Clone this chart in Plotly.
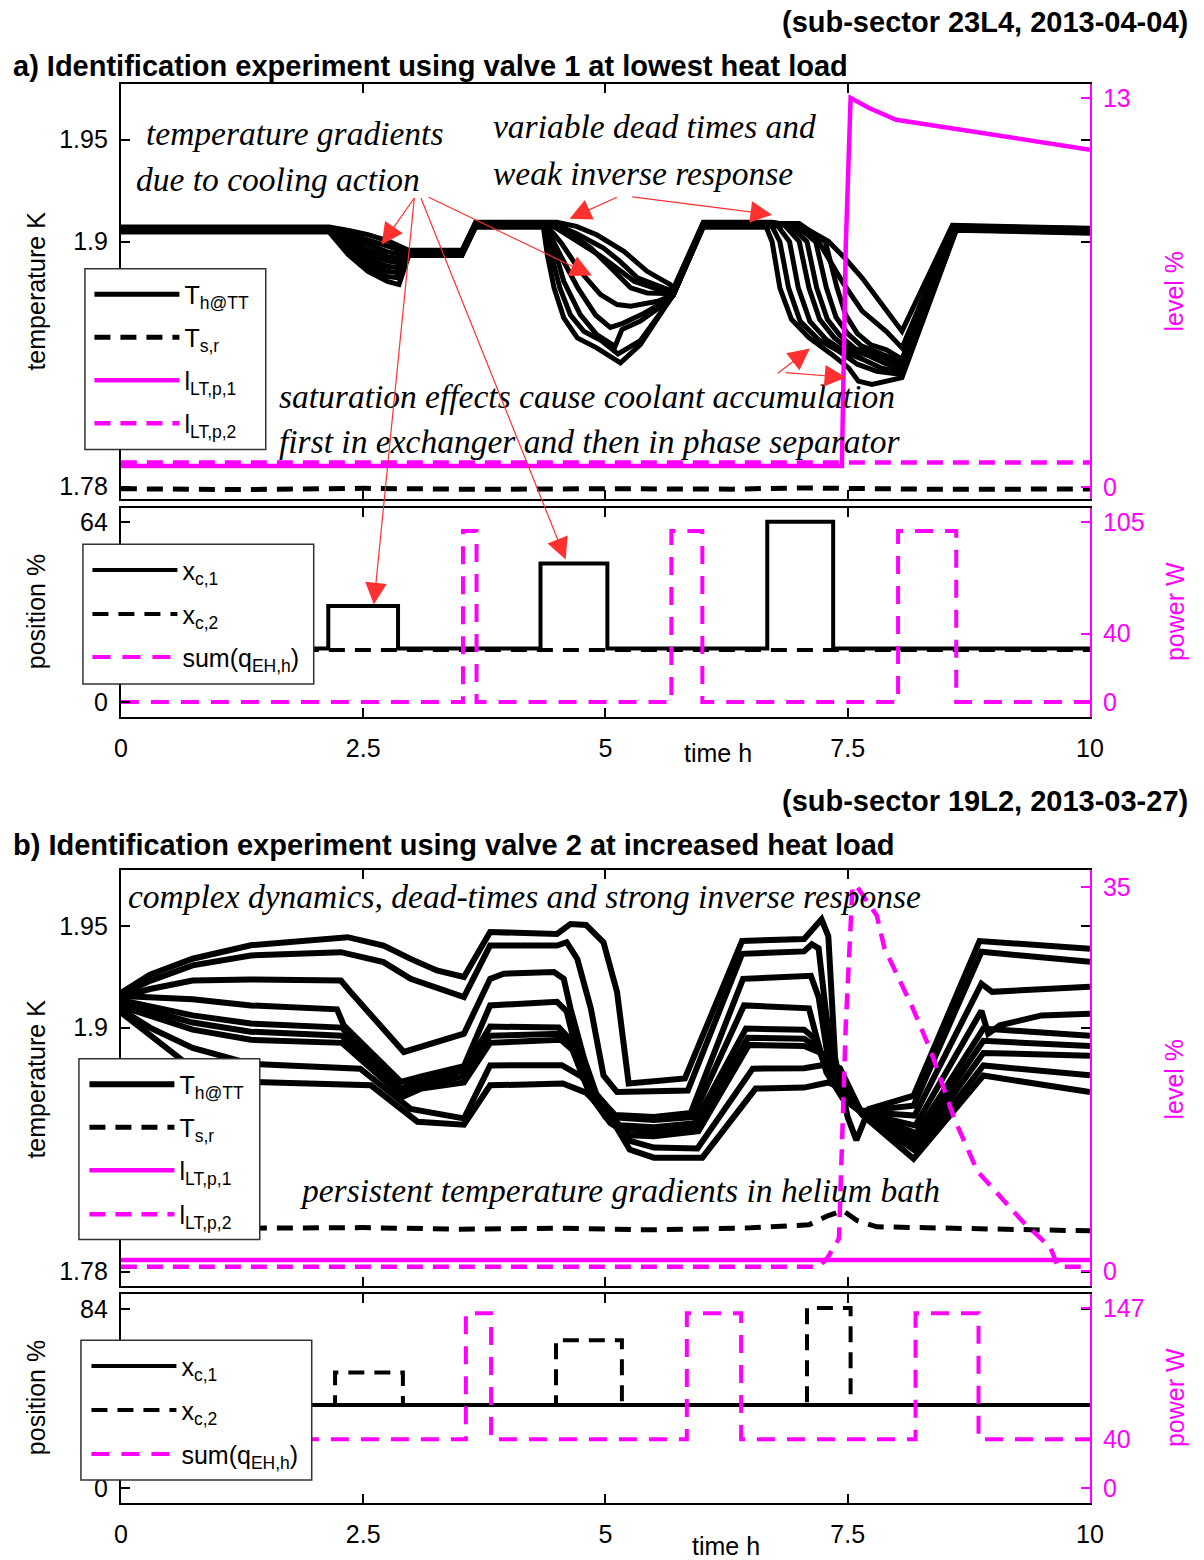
import plotly.graph_objects as go

# ---------------------------------------------------------------------------
# a) sub-sector 23L4 : helium temperatures T_h@TT (one line per sensor), K
# ---------------------------------------------------------------------------
a_t1 = [0, 2.15, 2.35, 2.55, 2.75, 2.87, 2.97, 3.52, 3.66, 4.50, 4.70, 4.91, 5.19, 5.43, 5.67, 5.70, 6.01, 6.72, 7.06, 7.30, 7.47, 7.65, 7.86, 8.02, 8.06, 8.58, 10]
a_v1 = [1.9072, 1.9072, 1.9055, 1.9035, 1.9005, 1.8980, 1.8958, 1.8958, 1.9095, 1.9095, 1.9075, 1.9034, 1.8953, 1.8855, 1.8790, 1.8770, 1.9095, 1.9095, 1.9067, 1.9002, 1.8920, 1.8822, 1.8692, 1.8594, 1.8562, 1.9080, 1.9066]
a_t2 = [0, 2.15, 2.35, 2.55, 2.75, 2.87, 2.97, 3.52, 3.66, 4.45, 4.70, 4.98, 5.15, 5.33, 5.60, 5.70, 6.01, 6.75, 7.00, 7.20, 7.45, 7.65, 7.90, 8.06, 8.59, 10]
a_v2 = [1.9068, 1.9068, 1.9040, 1.9010, 1.8975, 1.8960, 1.8954, 1.8954, 1.9092, 1.9092, 1.9040, 1.8969, 1.8904, 1.8823, 1.8774, 1.8758, 1.9092, 1.9092, 1.9075, 1.9000, 1.8800, 1.8660, 1.8560, 1.8480, 1.9077, 1.9063]
a_t3 = [0, 2.15, 2.35, 2.55, 2.75, 2.87, 2.97, 3.52, 3.66, 4.42, 4.68, 4.95, 5.12, 5.30, 5.55, 5.70, 6.01, 7.00, 7.27, 7.39, 7.48, 7.60, 7.74, 7.90, 8.06, 8.60, 10]
a_v3 = [1.9065, 1.9065, 1.9025, 1.8985, 1.8950, 1.8940, 1.8951, 1.8951, 1.9089, 1.9089, 1.9010, 1.8930, 1.8870, 1.8805, 1.8765, 1.8750, 1.9089, 1.9089, 1.9000, 1.8774, 1.8640, 1.8550, 1.8495, 1.8470, 1.8425, 1.9074, 1.9060]
a_t4 = [0, 2.15, 2.35, 2.55, 2.75, 2.87, 2.97, 3.52, 3.66, 4.40, 4.60, 4.85, 5.09, 5.26, 5.43, 5.70, 6.01, 6.95, 7.17, 7.28, 7.38, 7.50, 7.64, 7.80, 7.96, 8.06, 8.60, 10]
a_v4 = [1.9062, 1.9062, 1.9010, 1.8962, 1.8927, 1.8918, 1.8948, 1.8948, 1.9086, 1.9086, 1.9050, 1.8969, 1.8855, 1.8774, 1.8749, 1.8745, 1.9086, 1.9086, 1.9000, 1.8774, 1.8630, 1.8550, 1.8490, 1.8460, 1.8435, 1.8410, 1.9071, 1.9057]
a_t5 = [0, 2.15, 2.35, 2.55, 2.75, 2.87, 2.97, 3.52, 3.66, 4.39, 4.55, 4.74, 4.95, 5.12, 5.26, 5.54, 5.70, 6.01, 6.90, 7.08, 7.18, 7.29, 7.42, 7.58, 7.75, 7.92, 8.06, 8.61, 10]
a_v5 = [1.9059, 1.9059, 1.8995, 1.8940, 1.8905, 1.8896, 1.8945, 1.8945, 1.9083, 1.9083, 1.8990, 1.8855, 1.8741, 1.8692, 1.8684, 1.8708, 1.8740, 1.9083, 1.9083, 1.9000, 1.8774, 1.8620, 1.8540, 1.8475, 1.8455, 1.8420, 1.8395, 1.9068, 1.9054]
a_t6 = [0, 2.15, 2.35, 2.55, 2.75, 2.87, 2.97, 3.52, 3.66, 4.38, 4.55, 4.72, 4.90, 5.05, 5.18, 5.40, 5.60, 5.70, 6.01, 6.85, 7.00, 7.10, 7.21, 7.36, 7.52, 7.70, 7.88, 8.06, 8.61, 10]
a_v6 = [1.9056, 1.9056, 1.8980, 1.8918, 1.8880, 1.8872, 1.8942, 1.8942, 1.9080, 1.9080, 1.8920, 1.8770, 1.8640, 1.8580, 1.8600, 1.8650, 1.8705, 1.8738, 1.9080, 1.9080, 1.9000, 1.8774, 1.8620, 1.8530, 1.8470, 1.8445, 1.8405, 1.8380, 1.9065, 1.9051]
a_t7 = [0, 2.15, 2.35, 2.55, 2.75, 2.87, 2.97, 3.52, 3.66, 4.37, 4.43, 4.57, 4.74, 4.91, 5.10, 5.17, 5.36, 5.60, 5.70, 6.01, 6.78, 6.90, 6.99, 7.11, 7.28, 7.47, 7.65, 7.85, 8.06, 8.62, 10]
a_v7 = [1.9053, 1.9053, 1.8965, 1.8895, 1.8855, 1.8848, 1.8939, 1.8939, 1.9077, 1.9077, 1.9034, 1.8806, 1.8643, 1.8545, 1.8488, 1.8570, 1.8611, 1.8692, 1.8736, 1.9077, 1.9077, 1.9000, 1.8774, 1.8610, 1.8520, 1.8460, 1.8425, 1.8380, 1.8365, 1.9062, 1.9048]
a_t8 = [0, 2.15, 2.35, 2.55, 2.75, 2.87, 2.97, 3.52, 3.66, 4.37, 4.44, 4.53, 4.64, 4.78, 4.96, 5.13, 5.36, 5.60, 5.70, 6.01, 6.72, 6.80, 6.89, 7.01, 7.20, 7.42, 7.60, 7.80, 8.06, 8.62, 10]
a_v8 = [1.9050, 1.9050, 1.8950, 1.8875, 1.8830, 1.8822, 1.8936, 1.8936, 1.9074, 1.9074, 1.8936, 1.8774, 1.8640, 1.8560, 1.8515, 1.8450, 1.8515, 1.8680, 1.8738, 1.9074, 1.9074, 1.9000, 1.8774, 1.8610, 1.8520, 1.8460, 1.8400, 1.8365, 1.8350, 1.9059, 1.9045]
a_t9 = [0, 2.15, 2.35, 2.55, 2.75, 2.87, 2.97, 3.52, 3.66, 4.36, 4.40, 4.47, 4.57, 4.71, 4.91, 5.155, 5.36, 5.60, 5.70, 6.01, 6.66, 6.72, 6.80, 6.92, 7.10, 7.34, 7.51, 7.61, 7.75, 8.06, 8.62, 10]
a_v9 = [1.9047, 1.9047, 1.8935, 1.8855, 1.8805, 1.8790, 1.8933, 1.8933, 1.9071, 1.9071, 1.8936, 1.8774, 1.8627, 1.8529, 1.8480, 1.8407, 1.8496, 1.8676, 1.8741, 1.9071, 1.9071, 1.9000, 1.8774, 1.8620, 1.8530, 1.8447, 1.8382, 1.8317, 1.8301, 1.8334, 1.9056, 1.9042]

# return temperature T_s,r (K)
a_ts_t = [0, 1.2, 2.5, 3.7, 5.0, 6.3, 7.0, 8.5, 10]
a_ts_v = [1.7790, 1.7786, 1.7792, 1.7787, 1.7790, 1.7788, 1.7794, 1.7787, 1.7789]
# phase-separator levels (%)
a_l1_t = [0, 7.44, 7.48, 7.53, 7.72, 8.00, 10]
a_l1_v = [0.71, 0.71, 8.05, 13.0, 12.66, 12.27, 11.27]
a_l2_t = [0, 10]
a_l2_v = [0.83, 0.83]
# valve positions (%) and heater power (W)
a_xc1_t = [0, 2.14, 2.86, 4.33, 5.02, 6.67, 7.35, 10]
a_xc1_v = [19.1, 34.2, 19.1, 49.4, 19.1, 64.2, 19.1, 19.1]
a_xc2_t = [0, 10]
a_xc2_v = [18.6, 18.6]
a_q_t = [0, 3.53, 3.67, 5.68, 6.00, 8.02, 8.62, 10]
a_q_v = [0, 100, 0, 100, 0, 100, 0, 0]

# ---------------------------------------------------------------------------
# b) sub-sector 19L2
# ---------------------------------------------------------------------------
b_tA = [0, 0.3, 0.74, 1.34, 2.34, 2.71, 2.99, 3.26, 3.54, 3.81, 4.50, 4.64, 4.80, 4.98, 5.12, 5.24, 5.82, 6.41, 7.05, 7.16, 7.23, 7.30, 7.37, 7.50, 7.59, 7.72, 8.18, 8.86, 10]
b_vA = [1.9170, 1.9260, 1.9339, 1.9405, 1.9445, 1.9404, 1.9338, 1.9281, 1.9249, 1.9470, 1.9461, 1.9510, 1.9505, 1.9420, 1.9175, 1.8725, 1.8750, 1.9426, 1.9436, 1.9500, 1.9533, 1.9450, 1.8850, 1.8560, 1.8446, 1.8600, 1.8665, 1.9426, 1.9388]
b_tB = [0, 0.3, 0.74, 1.34, 2.27, 2.71, 2.99, 3.54, 3.81, 4.50, 4.60, 4.71, 4.85, 4.98, 5.12, 5.85, 6.41, 7.05, 7.13, 7.20, 7.27, 7.35, 7.50, 7.65, 8.18, 8.88, 10]
b_vB = [1.9160, 1.9230, 1.9306, 1.9355, 1.9371, 1.9322, 1.9240, 1.9150, 1.9404, 1.9404, 1.9420, 1.9338, 1.9093, 1.8765, 1.8683, 1.8690, 1.9363, 1.9375, 1.9410, 1.9390, 1.9100, 1.8800, 1.8650, 1.8590, 1.8616, 1.9373, 1.9324]
b_tC = [0, 0.3, 0.74, 1.34, 2.27, 2.37, 2.92, 3.13, 3.54, 3.81, 3.95, 4.47, 4.57, 4.64, 4.78, 4.91, 5.10, 5.50, 5.88, 6.42, 7.05, 7.12, 7.20, 7.28, 7.40, 7.65, 8.19, 8.88, 8.99, 10]
b_vC = [1.9150, 1.9190, 1.9232, 1.9237, 1.9232, 1.9175, 1.8880, 1.8912, 1.8970, 1.9240, 1.9265, 1.9273, 1.9240, 1.9093, 1.8847, 1.8667, 1.8570, 1.8560, 1.8580, 1.9240, 1.9250, 1.9255, 1.9150, 1.8900, 1.8700, 1.8585, 1.8567, 1.9216, 1.9176, 1.9201]
b_tD = [0, 0.74, 1.34, 2.23, 2.30, 2.89, 3.10, 3.54, 3.81, 4.50, 4.60, 4.72, 4.85, 5.05, 5.50, 5.90, 6.43, 7.00, 7.10, 7.18, 7.28, 7.45, 7.65, 8.20, 8.88, 8.95, 9.07, 9.50, 10]
b_vD = [1.9155, 1.9140, 1.9109, 1.9090, 1.9011, 1.8733, 1.8760, 1.8810, 1.9109, 1.9127, 1.9080, 1.8850, 1.8680, 1.8560, 1.8545, 1.8560, 1.9109, 1.9100, 1.9095, 1.8950, 1.8780, 1.8650, 1.8580, 1.8518, 1.9083, 1.8970, 1.9011, 1.9060, 1.9068]
b_tE1 = [0, 0.74, 1.34, 2.28, 2.89, 3.10, 3.54, 3.81, 4.52, 4.62, 4.78, 4.95, 5.15, 5.50, 5.92, 6.45, 7.05, 7.15, 7.30, 7.45, 7.65, 8.21, 8.90, 10]
b_vE1 = [1.9135, 1.9060, 1.9020, 1.9000, 1.8700, 1.8740, 1.8790, 1.9005, 1.9000, 1.8950, 1.8750, 1.8600, 1.8520, 1.8510, 1.8530, 1.8995, 1.8990, 1.8950, 1.8780, 1.8660, 1.8580, 1.8480, 1.8995, 1.8960]
b_tE2 = [0, 0.74, 1.34, 2.28, 2.90, 3.10, 3.54, 3.81, 4.53, 4.64, 4.82, 5.00, 5.20, 5.50, 5.94, 6.47, 7.05, 7.20, 7.35, 7.50, 7.65, 8.21, 8.90, 10]
b_vE2 = [1.9120, 1.9025, 1.8980, 1.8960, 1.8680, 1.8720, 1.8760, 1.8960, 1.8970, 1.8920, 1.8700, 1.8560, 1.8500, 1.8490, 1.8510, 1.8950, 1.8945, 1.8900, 1.8760, 1.8650, 1.8578, 1.8450, 1.8935, 1.8910]
b_tE3 = [0, 0.74, 1.34, 2.28, 2.91, 3.10, 3.54, 3.81, 4.54, 4.66, 4.85, 5.05, 5.25, 5.50, 5.96, 6.48, 7.05, 7.25, 7.40, 7.52, 7.65, 8.21, 8.90, 10]
b_vE3 = [1.9105, 1.8990, 1.8940, 1.8925, 1.8660, 1.8700, 1.8730, 1.8925, 1.8940, 1.8890, 1.8660, 1.8530, 1.8470, 1.8465, 1.8490, 1.8915, 1.8910, 1.8870, 1.8750, 1.8660, 1.8575, 1.8420, 1.8875, 1.8862]
b_tF = [0, 0.3, 0.74, 1.34, 2.47, 2.99, 3.54, 3.81, 4.55, 4.75, 5.00, 5.20, 5.50, 5.95, 6.52, 7.05, 7.30, 7.42, 7.65, 8.21, 8.90, 10]
b_vF = [1.9090, 1.9000, 1.8900, 1.8822, 1.8798, 1.8600, 1.8553, 1.8814, 1.8815, 1.8760, 1.8620, 1.8450, 1.8410, 1.8405, 1.8798, 1.8800, 1.8820, 1.8800, 1.8575, 1.8390, 1.8814, 1.8765]
b_tG = [0, 0.3, 0.74, 1.34, 2.58, 3.06, 3.54, 3.81, 4.56, 4.80, 5.05, 5.25, 5.50, 6.00, 6.55, 7.05, 7.30, 7.45, 7.65, 8.18, 8.90, 10]
b_vG = [1.9075, 1.8960, 1.8800, 1.8733, 1.8716, 1.8537, 1.8522, 1.8716, 1.8725, 1.8680, 1.8560, 1.8400, 1.8360, 1.8360, 1.8700, 1.8705, 1.8730, 1.8700, 1.8570, 1.8355, 1.8764, 1.8683]

b_ts_t = [0, 1.5, 2.5, 3.5, 4.5, 5.5, 6.5, 7.1, 7.3, 7.45, 7.6, 7.8, 8.5, 9.5, 10]
b_ts_v = [1.8010, 1.8012, 1.8016, 1.8008, 1.8013, 1.8005, 1.8015, 1.8030, 1.8075, 1.8100, 1.8050, 1.8020, 1.8015, 1.8005, 1.8000]
b_l1_t = [0, 10]
b_l1_v = [1.03, 1.03]
b_l2_t = [0, 7.20, 7.29, 7.41, 7.48, 7.55, 7.59, 7.80, 7.88, 8.16, 8.36, 8.60, 8.84, 9.31, 9.59, 9.67, 10]
b_l2_v = [0.43, 0.43, 1.2, 3.0, 22.4, 35.1, 35.1, 32.4, 29.4, 24.2, 20.0, 13.9, 9.1, 4.5, 2.2, 0.43, 0.43]
b_xc1_t = [0, 10]
b_xc1_v = [39.0, 39.0]
b_xc2_t = [0, 2.21, 2.91, 4.49, 5.17, 7.08, 7.53, 10]
b_xc2_v = [39.0, 54.3, 39.0, 69.5, 39.0, 84.6, 39.0, 39.0]
b_q_t = [0, 3.56, 3.82, 5.84, 6.40, 8.20, 8.85, 10]
b_q_v = [40, 143, 40, 143, 40, 143, 40, 40]

# axis ticks
time_ticks = [0, 2.5, 5, 7.5, 10]
time_labels = ["0", "2.5", "5", "7.5", "10"]
temp_ticks = [1.78, 1.9, 1.95]
temp_labels = ["1.78", "1.9", "1.95"]
a_level_ticks = [0, 13]
b_level_ticks = [0, 35]
a_pos_ticks = [0, 64]
b_pos_ticks = [0, 84]
a_pow_ticks = [0, 40, 105]
b_pow_ticks = [0, 40, 147]

# ---------------------------------------------------------------------------
W, H = 1204, 1560
BLACK = "#000000"
MAGENTA = "#ff00ff"
RED = "#ff3030"
SANS = "Liberation Sans, Arial, sans-serif"
SERIF = "Liberation Serif, Times New Roman, serif"
DASH = "16px,10px"

# page placement of the figure (horizontal offset / scale of the rendered page)
OX, SX = 6.0, 0.9835


def fx(p):
    return min(max((p - OX) / SX / W, 0.0), 1.0)


def fy(p):
    return 1 - p / H


fig = go.Figure()


def line(t, v, xa, ya, legend, name, color=BLACK, width=4, dash="solid",
         show=True, shape="linear"):
    fig.add_trace(go.Scatter(
        x=t, y=v, mode="lines", name=name, xaxis=xa, yaxis=ya,
        legend=legend, showlegend=show, hoverinfo="skip",
        line=dict(color=color, width=width, dash=dash, shape=shape)))


# panel a: temperatures and levels
for i, (t, v) in enumerate([(a_t1, a_v1), (a_t2, a_v2), (a_t3, a_v3), (a_t4, a_v4),
                            (a_t5, a_v5), (a_t6, a_v6), (a_t7, a_v7), (a_t8, a_v8),
                            (a_t9, a_v9)]):
    line(t, v, "x", "y", "legend", "T<sub>h@TT</sub>", width=5, show=(i == 0))
line(a_ts_t, a_ts_v, "x", "y", "legend2", "T<sub>s,r</sub>", width=5, dash=DASH)
line(a_l1_t, a_l1_v, "x", "y2", "legend3", "l<sub>LT,p,1</sub>", color=MAGENTA, width=4.5)
line(a_l2_t, a_l2_v, "x", "y2", "legend4", "l<sub>LT,p,2</sub>", color=MAGENTA, width=4.5, dash=DASH)

# panel a: valves and heaters
line(a_xc1_t, a_xc1_v, "x2", "y3", "legend5", "x<sub>c,1</sub>", shape="hv")
line(a_xc2_t, a_xc2_v, "x2", "y3", "legend6", "x<sub>c,2</sub>", dash=DASH, shape="hv")
line(a_q_t, a_q_v, "x2", "y4", "legend7", "sum(q<sub>EH,h</sub>)", color=MAGENTA,
     dash="18px,12px", shape="hv")

# panel b: temperatures and levels
for i, (t, v) in enumerate([(b_tA, b_vA), (b_tB, b_vB), (b_tC, b_vC), (b_tD, b_vD),
                            (b_tE1, b_vE1), (b_tE2, b_vE2), (b_tE3, b_vE3),
                            (b_tF, b_vF), (b_tG, b_vG)]):
    line(t, v, "x3", "y5", "legend8", "T<sub>h@TT</sub>", width=6, show=(i == 0))
line(b_ts_t, b_ts_v, "x3", "y5", "legend9", "T<sub>s,r</sub>", width=5, dash=DASH)
line(b_l1_t, b_l1_v, "x3", "y6", "legend10", "l<sub>LT,p,1</sub>", color=MAGENTA, width=4.5)
line(b_l2_t, b_l2_v, "x3", "y6", "legend11", "l<sub>LT,p,2</sub>", color=MAGENTA, width=4.5, dash=DASH)

# panel b: valves and heaters
line(b_xc1_t, b_xc1_v, "x4", "y7", "legend12", "x<sub>c,1</sub>", shape="hv")
line(b_xc2_t, b_xc2_v, "x4", "y7", "legend13", "x<sub>c,2</sub>", dash=DASH, shape="hv")
line(b_q_t, b_q_v, "x4", "y8", "legend14", "sum(q<sub>EH,h</sub>)", color=MAGENTA,
     dash="18px,12px", shape="hv")

# ---------------------------------------------------------------------------
TICKFONT = dict(family=SANS, size=25, color=BLACK)
MTICKFONT = dict(family=SANS, size=25, color=MAGENTA)


def xaxis(anchor, labels):
    return dict(domain=[fx(120), fx(1090)], anchor=anchor, range=[0, 10],
                tickvals=time_ticks, ticktext=time_labels, showticklabels=labels,
                ticks="inside", ticklen=9, tickwidth=2, tickcolor=BLACK,
                showline=True, linewidth=2, linecolor=BLACK, mirror="ticks",
                showgrid=False, zeroline=False, tickfont=TICKFONT,
                ticklabelstandoff=8)


def yleft(top, bottom, rng, vals, text, anchor):
    return dict(domain=[fy(bottom), fy(top)], anchor=anchor, range=rng,
                tickvals=vals, ticktext=text, ticks="inside", ticklen=9,
                tickwidth=2, tickcolor=BLACK, showline=True, linewidth=2,
                linecolor=BLACK, mirror="ticks", showgrid=False, zeroline=False,
                tickfont=TICKFONT, ticklabelstandoff=6)


def yright(over, rng, vals, anchor):
    return dict(overlaying=over, side="right", anchor=anchor, range=rng,
                tickvals=vals, ticktext=[str(v) for v in vals], ticks="inside",
                ticklen=9, tickwidth=2, tickcolor=MAGENTA, showline=True,
                linewidth=2, linecolor=MAGENTA, showgrid=False, zeroline=False,
                tickfont=MTICKFONT, ticklabelstandoff=6)


def legend_item(x, y):
    # one entry per legend so that the rows can be spaced freely
    return dict(x=fx(x), y=fy(y), xanchor="left", yanchor="middle",
                bgcolor="rgba(0,0,0,0)", borderwidth=0, itemwidth=85,
                font=dict(family=SANS, size=25, color=BLACK), tracegroupgap=0)


legend_layout = {}
legend_rows = [
    (88.5, [295, 338, 381, 424]),      # a) temperatures / levels
    (86.5, [571, 615, 658]),           # a) valves / heaters
    (83.5, [1086, 1129, 1172, 1216]),  # b) temperatures / levels
    (85.5, [1368, 1412, 1456]),        # b) valves / heaters
]
k = 1
for lx, rows in legend_rows:
    for ry in rows:
        key = "legend" if k == 1 else "legend%d" % k
        legend_layout[key] = legend_item(lx, ry)
        k += 1

# legend frames
shapes = []
for x0, y0, x1, y1 in [(84, 269, 265, 450), (82, 545, 313, 685),
                       (78, 1060, 259, 1241), (80, 1342, 311, 1482)]:
    shapes.append(dict(type="rect", xref="paper", yref="paper",
                       x0=fx(x0), x1=fx(x1), y0=fy(y1), y1=fy(y0),
                       line=dict(color="#333333", width=1.5),
                       fillcolor="white", layer="above"))

annotations = []


def text(x, y, s, size=25, color=BLACK, xanchor="left", angle=0, family=SANS):
    annotations.append(dict(x=fx(x), y=fy(y), xref="paper", yref="paper", text=s,
                            showarrow=False, xanchor=xanchor, yanchor="middle",
                            textangle=angle,
                            font=dict(family=family, size=size, color=color)))


def note(x, y, s):
    text(x, y, "<i>" + s + "</i>", size=33.5, family=SERIF)


def arrow(x, y, xr, yr, ax, ay):
    annotations.append(dict(x=x, y=y, xref=xr, yref=yr, ax=ax / SX, ay=ay, text="",
                            showarrow=True, arrowhead=2, arrowsize=3.6,
                            arrowwidth=1.2, arrowcolor=RED, standoff=0))


# headings
text(1195, 22, "<b>(sub-sector 23L4, 2013-04-04)</b>", size=29, xanchor="right")
text(10, 66, "<b>a) Identification experiment using valve 1 at lowest heat load</b>", size=29)
text(1195, 802, "<b>(sub-sector 19L2, 2013-03-27)</b>", size=29, xanchor="right")
text(10, 846, "<b>b) Identification experiment using valve 2 at increased heat load</b>", size=29)

# axis titles
for cy in (291, 1080):
    text(35, cy, "temperature K", xanchor="center", angle=-90)
    text(1174, cy, "level %", color=MAGENTA, xanchor="center", angle=-90)
for cy in (612, 1399):
    text(35, cy, "position %", xanchor="center", angle=-90)
    text(1175, cy, "power W", color=MAGENTA, xanchor="center", angle=-90)
text(718, 754, "time h", xanchor="center")
text(726, 1548, "time h", xanchor="center")

# remarks
note(143, 134, "temperature gradients")
note(133, 180, "due to cooling action")
note(490, 127, "variable dead times and")
note(490, 174, "weak inverse response")
note(276, 397, "saturation effects cause coolant accumulation")
note(276, 442, "first in exchanger and then in phase separator")
note(125, 898, "complex dynamics, dead-times and strong inverse response")
note(297, 1192, "persistent temperature gradients in helium bath")

# pointers
arrow(2.69, 1.8985, "x", "y", 33, -48)
arrow(2.61, 34.8, "x2", "y3", 40, -408)
arrow(4.59, 50.8, "x2", "y3", -143, -363)
arrow(4.86, 1.8834, "x", "y", -162, -79)
arrow(4.63, 1.9113, "x", "y", 48, -22)
arrow(6.72, 1.9132, "x", "y", -139, -18)
arrow(7.11, 1.8477, "x", "y", -33, 26)
arrow(7.485, 1.8335, "x", "y", -61, -5)

fig.update_layout(
    width=W, height=H, autosize=False, margin=dict(l=0, r=0, t=0, b=0),
    paper_bgcolor="white", plot_bgcolor="white",
    xaxis=xaxis("y", False),
    yaxis=yleft(84, 500, [1.7738, 1.9773], temp_ticks, temp_labels, "x"),
    yaxis2=yright("y", [-0.4, 13.467], a_level_ticks, "x"),
    xaxis2=xaxis("y3", True),
    yaxis3=yleft(509, 718, [-5.33, 69.0], a_pos_ticks, [str(v) for v in a_pos_ticks], "x2"),
    yaxis4=yright("y3", [-8.75, 113.2], a_pow_ticks, "x2"),
    xaxis3=xaxis("y5", False),
    yaxis5=yleft(871, 1288, [1.7727, 1.9776], temp_ticks, temp_labels, "x3"),
    yaxis6=yright("y5", [-1.364, 36.55], b_level_ticks, "x3"),
    xaxis4=xaxis("y7", True),
    yaxis7=yleft(1296, 1505, [-7.04, 91.04], b_pos_ticks, [str(v) for v in b_pos_ticks], "x4"),
    yaxis8=yright("y7", [-12.25, 158.4], b_pow_ticks, "x4"),
    shapes=shapes,
    annotations=annotations,
    **legend_layout,
)

fig.write_html(
    "out.html",
    config={"responsive": False},
    post_script="document.body.style.margin='0';document.body.style.overflow='hidden';",
)
